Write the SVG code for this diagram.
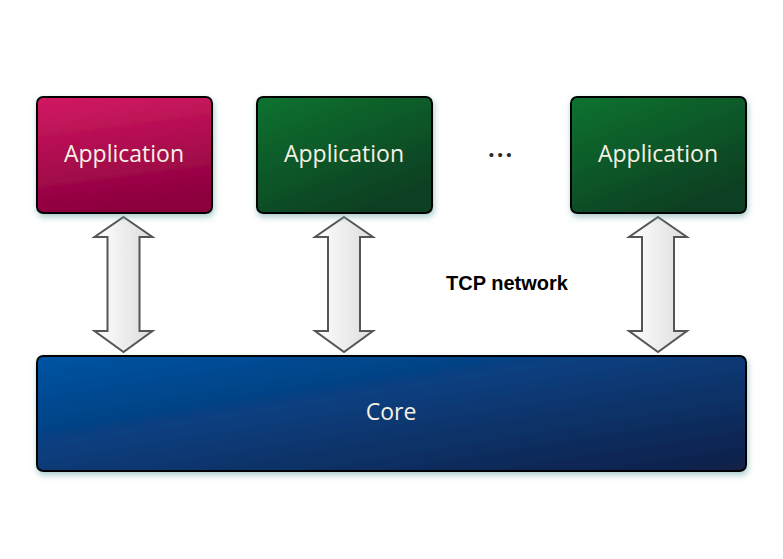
<svg xmlns="http://www.w3.org/2000/svg" width="783" height="559" viewBox="0 0 783 559">
<defs>
<linearGradient id="gRed" x1="0" y1="0" x2="0.2" y2="1">
<stop offset="0" stop-color="#d31a63"/><stop offset="1" stop-color="#8c003e"/>
</linearGradient>
<linearGradient id="gGreen" x1="0" y1="0" x2="0.6" y2="1">
<stop offset="0" stop-color="#077330"/><stop offset="1" stop-color="#103f22"/>
</linearGradient>
<linearGradient id="gBlue" x1="0" y1="0" x2="1" y2="1">
<stop offset="0" stop-color="#0054a4"/><stop offset="1" stop-color="#121f47"/>
</linearGradient>
<linearGradient id="gArrow" x1="0" y1="0" x2="1" y2="0">
<stop offset="0" stop-color="#ffffff"/><stop offset="1" stop-color="#dcdcdc"/>
</linearGradient>
<filter id="sh" x="-10%" y="-10%" width="120%" height="130%">
<feGaussianBlur in="SourceAlpha" stdDeviation="3"/>
<feOffset dx="1" dy="3" result="b"/>
<feFlood flood-color="#6aa6a6" flood-opacity="0.6"/>
<feComposite in2="b" operator="in"/>
<feMerge><feMergeNode/><feMergeNode in="SourceGraphic"/></feMerge>
</filter>
<path id="arr" d="M0,0 L29,20 L16,20 L16,114 L29,114 L0,135 L-29,114 L-16,114 L-16,20 L-29,20 Z"/>
</defs>
<style>
.box{stroke:#000;stroke-width:2;filter:url(#sh)}
.lbl{font-family:"Open Sans","Noto Sans",sans-serif;font-size:23px;fill:#f5f1e3;text-anchor:middle}
.arrow{fill:url(#gArrow);stroke:#555;stroke-width:2;stroke-linejoin:miter}
</style>
<g id="connectors">
<use href="#arr" class="arrow" x="123.5" y="217"/>
<use href="#arr" class="arrow" x="344" y="217"/>
<use href="#arr" class="arrow" x="658" y="217"/>
</g>
<g id="app1">
<rect class="box" x="37" y="97" width="175" height="116" rx="6" fill="url(#gRed)"/>
<text class="lbl" x="124" y="162">Application</text>
</g>
<g id="app2">
<rect class="box" x="257" y="97" width="175" height="116" rx="6" fill="url(#gGreen)"/>
<text class="lbl" x="344" y="162">Application</text>
</g>
<g id="dots">
<text x="502" y="160" font-family="Liberation Sans, sans-serif" font-size="15" letter-spacing="3.5" fill="#2a2a2a" text-anchor="middle">•••</text>
</g>
<g id="app3">
<rect class="box" x="571" y="97" width="175" height="116" rx="6" fill="url(#gGreen)"/>
<text class="lbl" x="658" y="162">Application</text>
</g>
<g id="core">
<rect class="box" x="37" y="356" width="709" height="115" rx="6" fill="url(#gBlue)"/>
<text class="lbl" x="391" y="420">Core</text>
</g>
<g id="tcp">
<text x="507" y="290" font-family="Liberation Sans, Arial, sans-serif" font-size="20" font-weight="bold" fill="#000" text-anchor="middle">TCP network</text>
</g>
</svg>
